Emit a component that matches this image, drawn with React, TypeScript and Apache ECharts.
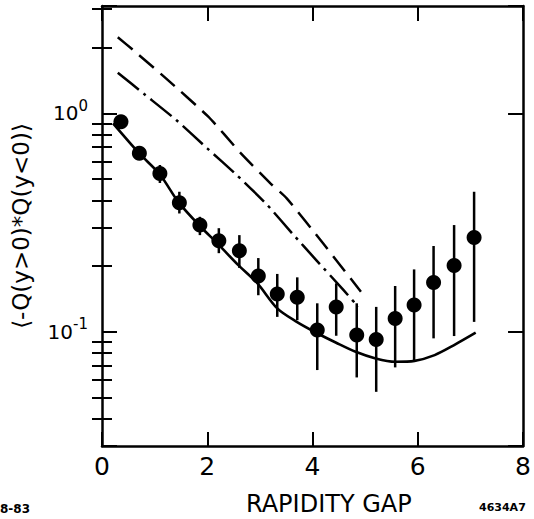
import React, { useEffect, useRef } from 'react';
import * as echarts from 'echarts';

const FONT = 'DejaVu Sans';

// Axis ticks
const xTickStep = 2;
const yMinorTicks = [0.04, 0.05, 0.06, 0.07, 0.08, 0.09, 0.2, 0.3, 0.4, 0.5, 0.6, 0.7, 0.8, 0.9, 2, 3];

// Data points (rapidity gap, correlation) with error bars
const gapX = [0.36, 0.71, 1.10, 1.47, 1.86, 2.22, 2.61, 2.97, 3.33, 3.71, 4.09, 4.45, 4.84, 5.21, 5.57, 5.93, 6.30, 6.69, 7.07];
const corr = [0.915, 0.656, 0.531, 0.390, 0.308, 0.261, 0.235, 0.180, 0.149, 0.144, 0.102, 0.130, 0.0966, 0.0923, 0.115, 0.1325, 0.168, 0.201, 0.270];
const errLow = [0.89, 0.635, 0.48, 0.348, 0.277, 0.229, 0.196, 0.147, 0.117, 0.113, 0.0668, 0.0959, 0.0618, 0.0531, 0.0687, 0.0729, 0.0933, 0.0956, 0.111];
const errHigh = [0.94, 0.675, 0.58, 0.4375, 0.336, 0.298, 0.277, 0.2175, 0.184, 0.1775, 0.135, 0.1666, 0.135, 0.130, 0.162, 0.193, 0.247, 0.308, 0.4375];

// Solid model curve
const solidX = [0.21, 0.71, 1.10, 1.46, 1.86, 2.22, 2.58, 2.95, 3.33, 3.70, 4.07, 4.45, 4.82, 5.20, 5.57, 5.94, 6.32, 6.69, 7.10];
const solidY = [0.90, 0.655, 0.525, 0.39, 0.305, 0.25, 0.203, 0.167, 0.128, 0.111, 0.099, 0.0891, 0.081, 0.0755, 0.0729, 0.0736, 0.0782, 0.0869, 0.099];

// Dashed model curve
const dashedX = [0.30, 0.59, 1.21, 2.02, 2.64, 3.20, 3.51, 4.20, 4.92];
const dashedY = [2.23, 1.95, 1.45, 0.965, 0.656, 0.478, 0.408, 0.254, 0.1525];

// Dash-dot model curve
const dotDashX = [0.30, 0.80, 1.41, 2.00, 2.56, 3.13, 3.62, 4.07, 4.59, 4.87];
const dotDashY = [1.535, 1.226, 0.932, 0.691, 0.522, 0.383, 0.281, 0.213, 0.155, 0.130];

const Y_MIN = 0.03;
const Y_MAX = 3.1;

export default function App() {
  const ref = useRef<HTMLDivElement>(null);

  useEffect(() => {
    if (!ref.current) return;
    const chart = echarts.init(ref.current, undefined, { renderer: 'svg' });

    const axisLine = { show: true, onZero: false, lineStyle: { color: '#000', width: 2.5 } };
    const majorTick = { show: true, inside: true, length: 15, lineStyle: { color: '#000', width: 2 } };
    const minorTickCustom = {
      show: true,
      inside: true,
      length: 10,
      customValues: yMinorTicks.map((v) => Math.log10(v)),
      lineStyle: { color: '#000', width: 2 },
    };

    const option: any = {
      animation: false,
      grid: { left: 102, right: 4, top: 6, bottom: 73, containLabel: false },
      xAxis: [
        {
          type: 'value',
          min: 0,
          max: 8,
          interval: xTickStep,
          position: 'bottom',
          axisLine,
          axisTick: { ...majorTick, length: 14 },
          axisLabel: { fontSize: 25, color: '#000', fontFamily: FONT, margin: 8 },
          splitLine: { show: false },
        },
        {
          type: 'value',
          min: 0,
          max: 8,
          interval: xTickStep,
          position: 'top',
          axisLine,
          axisTick: { ...majorTick, length: 15 },
          axisLabel: { show: false },
          splitLine: { show: false },
        },
      ],
      yAxis: [
        {
          type: 'log',
          logBase: 10,
          min: Y_MIN,
          max: Y_MAX,
          position: 'left',
          axisLine,
          axisTick: majorTick,
          splitLine: { show: false },
          axisLabel: {
            margin: 14,
            formatter: (v: number) => {
              if (Math.abs(v - 1) < 1e-6) return '{b|10}{s|0}';
              if (Math.abs(v - 0.1) < 1e-7) return '{b|10}{s|-1}';
              return '';
            },
            rich: {
              b: { fontSize: 20, lineHeight: 30, fontFamily: FONT, color: '#000' },
              s: { fontSize: 15, lineHeight: 15, verticalAlign: 'top', fontFamily: FONT, color: '#000' },
            },
          },
          name: '⟨-Q(y>0)*Q(y<0)⟩',
          nameLocation: 'middle',
          nameRotate: 90,
          nameGap: 70,
          nameTextStyle: { fontSize: 23, color: '#000', fontFamily: FONT },
        },
        {
          type: 'log',
          logBase: 10,
          min: Y_MIN,
          max: Y_MAX,
          position: 'right',
          axisLine,
          axisTick: majorTick,
          axisLabel: { show: false },
          splitLine: { show: false },
        },
        {
          type: 'value',
          min: Math.log10(Y_MIN),
          max: Math.log10(Y_MAX),
          position: 'left',
          axisLine: { show: false },
          axisTick: minorTickCustom,
          axisLabel: { show: false },
          splitLine: { show: false },
        },
        {
          type: 'value',
          min: Math.log10(Y_MIN),
          max: Math.log10(Y_MAX),
          position: 'right',
          axisLine: { show: false },
          axisTick: minorTickCustom,
          axisLabel: { show: false },
          splitLine: { show: false },
        },
      ],
      series: [
        {
          type: 'line',
          xAxisIndex: 0,
          yAxisIndex: 0,
          data: solidX.map((x, i) => [x, solidY[i]]),
          smooth: 0.3,
          symbol: 'none',
          lineStyle: { color: '#000', width: 2.6 },
          z: 2,
        },
        {
          type: 'line',
          xAxisIndex: 0,
          yAxisIndex: 0,
          data: dashedX.map((x, i) => [x, dashedY[i]]),
          smooth: 0.2,
          symbol: 'none',
          lineStyle: { color: '#000', width: 2.5, type: [19, 9] },
          z: 2,
        },
        {
          type: 'line',
          xAxisIndex: 0,
          yAxisIndex: 0,
          data: dotDashX.map((x, i) => [x, dotDashY[i]]),
          smooth: 0.2,
          symbol: 'none',
          lineStyle: { color: '#000', width: 2.5, type: [27, 6, 3, 6] },
          z: 2,
        },
        {
          type: 'custom',
          xAxisIndex: 0,
          yAxisIndex: 0,
          data: gapX.map((x, i) => [x, errLow[i], errHigh[i]]),
          encode: { x: 0, y: [1, 2] },
          renderItem: (params: any, api: any) => {
            const x = api.value(0);
            const p1 = api.coord([x, api.value(1)]);
            const p2 = api.coord([x, api.value(2)]);
            return {
              type: 'line',
              shape: { x1: p1[0], y1: p1[1], x2: p2[0], y2: p2[1] },
              style: { stroke: '#000', lineWidth: 2.5 },
            };
          },
          z: 3,
        },
        {
          type: 'scatter',
          xAxisIndex: 0,
          yAxisIndex: 0,
          data: gapX.map((x, i) => [x, corr[i]]),
          symbol: 'circle',
          symbolSize: 15,
          itemStyle: { color: '#000', opacity: 1 },
          z: 4,
        },
      ],
      graphic: [
        {
          type: 'text',
          left: 246,
          top: 492,
          style: { text: 'RAPIDITY GAP', fontSize: 24, fontFamily: FONT, fill: '#000' },
        },
        {
          type: 'text',
          left: 0,
          top: 503,
          style: { text: '8-83', fontSize: 12, fontWeight: 'bold', fontFamily: FONT, fill: '#000' },
        },
        {
          type: 'text',
          left: 479,
          top: 502,
          style: { text: '4634A7', fontSize: 11, fontWeight: 'bold', fontFamily: FONT, fill: '#000' },
        },
      ],
    };

    chart.setOption(option);
    return () => chart.dispose();
  }, []);

  return (
    <div
      ref={ref}
      style={{ position: 'fixed', left: 0, top: 0, width: 534, height: 519, background: '#fff' }}
    />
  );
}
